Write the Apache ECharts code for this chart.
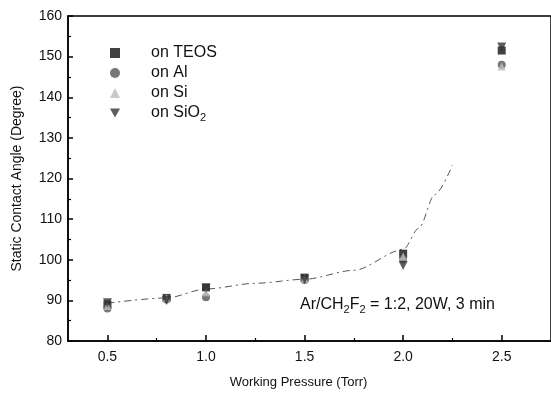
<!DOCTYPE html>
<html>
<head>
<meta charset="utf-8">
<script src="https://cdn.jsdelivr.net/npm/echarts@6/dist/echarts.min.js"></script>
<style>
  html, body { margin: 0; padding: 0; background: #fff; }
  #chart { width: 551px; height: 394px; }
</style>
</head>
<body>
<div id="chart"></div>
<script>
// working pressure (Torr)
const pressure = [0.5, 0.8, 1.0, 1.5, 2.0, 2.5]
// static contact angle (degree) per substrate
const teos = [89.0, 90.6, 93.2, 95.6, 101.5, 151.5]
const al = [88.0, 90.2, 90.8, 95.0, 100.2, 148.0]
const si = [88.6, 90.5, 92.0, 95.4, 100.8, 147.6]
const sio2 = [89.4, 90.0, 93.0, 95.2, 98.6, 152.4]
// guide-to-the-eye curve
const fitX = [0.5, 0.8, 1.0, 1.25, 1.5, 1.75, 2.0, 2.08, 2.16, 2.25]
const fitY = [89.3, 90.6, 92.8, 94.2, 95.2, 97.4, 102.5, 107.8, 116.0, 123.3]

const majorX = [0.5, 1.0, 1.5, 2.0, 2.5]
const minorX = [0.75, 1.25, 1.75, 2.25]

const font = 'Arial, "Liberation Sans", sans-serif'
const zip = (xs, ys) => xs.map((x, i) => [x, ys[i]])

const chart = echarts.init(document.getElementById('chart'))

const pointSeries = (name, data, symbol, color, size) => ({
  name,
  type: 'scatter',
  symbol,
  symbolSize: size,
  itemStyle: { color },
  data: zip(pressure, data),
  z: 3,
})

chart.setOption({
  animation: false,
  grid: { left: 68, right: -2, top: 16, bottom: 53, show: true, borderColor: '#000', borderWidth: 1.5 },
  xAxis: [
    {
      type: 'value',
      min: 0.3,
      max: 2.75,
      name: 'Working Pressure (Torr)',
      nameLocation: 'middle',
      nameGap: 35,
      nameTextStyle: { fontFamily: font, fontSize: 13, color: '#111', padding: [0, 22, 0, 0] },
      axisLine: { lineStyle: { color: '#000', width: 1.5 } },
      axisTick: { inside: true, length: 6, customValues: majorX, lineStyle: { color: '#000', width: 1.5 } },
      axisLabel: { customValues: majorX, fontFamily: font, fontSize: 14, color: '#111', margin: 9, formatter: v => v.toFixed(1) },
      splitLine: { show: false },
    },
    {
      type: 'value',
      min: 0.3,
      max: 2.75,
      position: 'bottom',
      axisLine: { show: false },
      axisTick: { inside: true, length: 3, customValues: minorX, lineStyle: { color: '#000', width: 1.2 } },
      axisLabel: { show: false },
      splitLine: { show: false },
    },
  ],
  yAxis: {
    type: 'value',
    min: 80,
    max: 160,
    interval: 10,
    name: 'Static Contact Angle (Degree)',
    nameLocation: 'middle',
    nameGap: 44,
    nameTextStyle: { fontFamily: font, fontSize: 14, color: '#111' },
    axisLine: { lineStyle: { color: '#000', width: 1.5 } },
    axisTick: { inside: true, length: 5, lineStyle: { color: '#000', width: 1.5 } },
    minorTick: { show: true, splitNumber: 2, length: 3, lineStyle: { color: '#000', width: 1.2 } },
    axisLabel: { fontFamily: font, fontSize: 14, color: '#111', margin: 6 },
    splitLine: { show: false },
  },
  legend: {
    orient: 'vertical',
    left: 105,
    top: 40,
    itemWidth: 10,
    itemHeight: 10,
    itemGap: 4,
    data: ['on TEOS', 'on Al', 'on Si', 'on SiO2'],
    formatter: name => name === 'on SiO2' ? '{t|on SiO}{s|2}' : '{t|' + name + '}',
    textStyle: {
      fontFamily: font,
      fontSize: 16,
      color: '#111',
      padding: [0, 0, 0, 26],
      rich: {
        t: { fontFamily: font, fontSize: 16, color: '#111' },
        s: { fontFamily: font, fontSize: 11, color: '#111', padding: [9, 0, 0, 0] },
      },
    },
  },
  graphic: [
    {
      type: 'text',
      left: 300,
      top: 297,
      style: {
        text: '{t|Ar/CH}{s|2}{t|F}{s|2}{t| = 1:2, 20W, 3 min}',
        rich: {
          t: { fontFamily: font, fontSize: 16, fill: '#111' },
          s: { fontFamily: font, fontSize: 11, fill: '#111', padding: [9, 0, 0, 0] },
        },
      },
    },
  ],
  series: [
    {
      name: 'fit',
      type: 'line',
      data: zip(fitX, fitY),
      smooth: 0.3,
      smoothMonotone: 'x',
      showSymbol: false,
      lineStyle: { color: '#555', width: 1, type: [7, 4, 2, 4] },
      z: 1,
    },
    pointSeries('on TEOS', teos, 'rect', '#111', 8),
    pointSeries('on Al', al, 'circle', '#555', 8),
    pointSeries('on Si', si, 'triangle', '#bbb', 8),
    pointSeries('on SiO2', sio2, 'path://M0,0 L10,0 L5,9 Z', '#333', 9),
  ],
})
</script>
</body>
</html>
